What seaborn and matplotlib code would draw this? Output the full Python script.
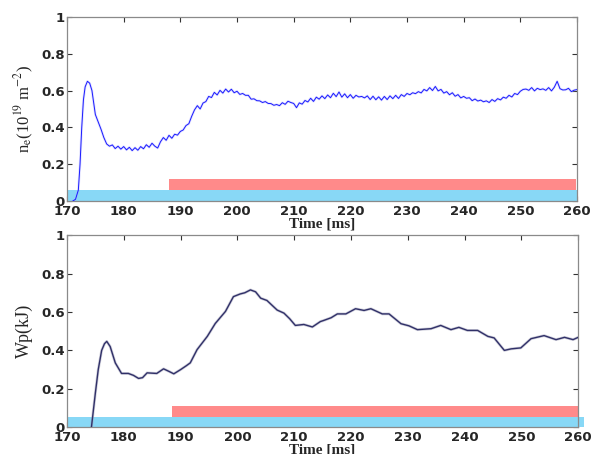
import numpy as np
import pandas as pd
import seaborn as sns
import matplotlib
matplotlib.use("Agg")
import matplotlib.pyplot as plt

# ---------------- data ----------------
ne_t_early = [170.0, 170.5, 171.0, 171.5, 172.0, 172.3, 172.6, 172.9, 173.2, 173.6, 174.0, 174.4]
ne_v_early = [-0.02, -0.01, 0.0, 0.01, 0.06, 0.20, 0.40, 0.55, 0.62, 0.65, 0.64, 0.60]
ne_t_start, ne_t_stop, ne_t_step = 175.0, 260.0, 0.5
ne_v_main = [
    0.47, 0.43, 0.39, 0.345, 0.31, 0.298, 0.305, 0.285, 0.298, 0.282,
    0.296, 0.278, 0.292, 0.274, 0.29, 0.276, 0.296, 0.284, 0.306, 0.292,
    0.314, 0.298, 0.288, 0.322, 0.345, 0.33, 0.357, 0.341, 0.363, 0.358,
    0.378, 0.386, 0.41, 0.42, 0.46, 0.495, 0.518, 0.5, 0.532, 0.54,
    0.568, 0.562, 0.59, 0.576, 0.601, 0.586, 0.608, 0.592, 0.607, 0.588,
    0.596, 0.579, 0.584, 0.574, 0.574, 0.553, 0.555, 0.545, 0.544, 0.535,
    0.54, 0.53, 0.529, 0.52, 0.524, 0.518, 0.534, 0.525, 0.542, 0.535,
    0.53, 0.507, 0.533, 0.526, 0.546, 0.538, 0.558, 0.541, 0.564, 0.553,
    0.571, 0.556, 0.576, 0.561, 0.585, 0.567, 0.592, 0.564, 0.582, 0.561,
    0.578, 0.558, 0.574, 0.565, 0.568, 0.56, 0.571, 0.551, 0.569, 0.55,
    0.566, 0.548, 0.568, 0.551, 0.571, 0.556, 0.574, 0.557, 0.578, 0.568,
    0.584, 0.577, 0.588, 0.583, 0.594, 0.587, 0.606, 0.598, 0.616, 0.6,
    0.622, 0.598, 0.606, 0.586, 0.594, 0.577, 0.588, 0.569, 0.578, 0.56,
    0.568, 0.558, 0.561, 0.545, 0.554, 0.543, 0.548, 0.539, 0.544, 0.535,
    0.551, 0.541, 0.556, 0.549, 0.564, 0.558, 0.574, 0.565, 0.584, 0.578,
    0.596, 0.606, 0.608, 0.601, 0.616, 0.598, 0.612, 0.605, 0.609, 0.601,
    0.616, 0.598, 0.618, 0.65, 0.61, 0.603, 0.604, 0.612, 0.594, 0.602,
    0.605,
]

wp_t = [174.3, 175.0, 175.5, 176.1, 176.6, 177.0, 177.6, 178.5, 179.6, 180.8,
        181.7, 182.6, 183.3, 184.1, 185.8, 187.0, 188.0, 188.8, 190.0, 191.0,
        191.7, 192.9, 194.7, 196.1, 197.9, 199.3, 200.5, 201.3, 202.3, 203.2,
        204.1, 205.2, 207.0, 208.2, 209.2, 210.2, 211.7, 213.2, 214.6, 215.2,
        216.5, 217.6, 219.1, 220.8, 222.3, 223.5, 225.5, 226.7, 228.8, 230.2,
        231.7, 234.1, 235.8, 237.6, 239.0, 240.5, 242.3, 244.1, 245.2, 247.0,
        248.2, 249.9, 251.7, 254.0, 256.1, 257.6, 259.1, 260.0]
wp_v = [0.0, 0.18, 0.30, 0.40, 0.435, 0.447, 0.42, 0.335, 0.28, 0.28,
        0.27, 0.254, 0.258, 0.283, 0.28, 0.304, 0.29, 0.278, 0.30, 0.32,
        0.335, 0.404, 0.473, 0.54, 0.603, 0.68, 0.694, 0.70, 0.715, 0.705,
        0.672, 0.66, 0.61, 0.594, 0.565, 0.53, 0.535, 0.522, 0.55, 0.556,
        0.57, 0.59, 0.59, 0.617, 0.608, 0.617, 0.59, 0.59, 0.539, 0.528,
        0.508, 0.513, 0.53, 0.508, 0.52, 0.504, 0.504, 0.473, 0.465, 0.40,
        0.408, 0.413, 0.461, 0.477, 0.456, 0.468, 0.456, 0.468]

# heating strips: (start, end, bottom, top)
top_cyan = (170.0, 260.0, 0.0, 0.06)
top_red = (188.0, 259.8, 0.06, 0.12)
bot_cyan = (170.0, 261.1, 0.0, 0.052)
bot_red = (188.5, 260.0, 0.052, 0.108)

x_ticks = [170, 180, 190, 200, 210, 220, 230, 240, 250, 260]
y_ticks = [0, 0.2, 0.4, 0.6, 0.8, 1]
y_tick_labels = ["0", "0.2", "0.4", "0.6", "0.8", "1"]
x_label = "Time [ms]"
top_ylabel = r"n$_{\mathrm{e}}$(10$^{19}$ m$^{-2}$)"
bot_ylabel = "Wp(kJ)"

CYAN = "#88D8F6"
RED = "#FF8A8A"

# ---------------- build frames ----------------
ne_t = list(ne_t_early) + list(np.arange(ne_t_start, ne_t_stop + 0.01, ne_t_step))
ne_df = pd.DataFrame({"t": ne_t, "v": list(ne_v_early) + ne_v_main})
wp_df = pd.DataFrame({"t": wp_t, "v": wp_v})

sns.set_style("ticks")
plt.rcParams["mathtext.fontset"] = "stix"

fig = plt.figure(figsize=(5.93, 4.54), dpi=100)
ax1 = fig.add_axes([0.113, 0.557, 0.860, 0.406])
ax2 = fig.add_axes([0.113, 0.059, 0.862, 0.423])


def strip(ax, spec, color):
    s, e, b, t = spec
    ax.barh(y=(b + t) / 2, width=e - s, left=s, height=t - b, color=color,
            edgecolor="none", zorder=1, clip_on=False)


def style(ax, ylabel, ylsize, labelpad):
    ax.set_xlim(170, 260)
    ax.set_ylim(0, 1)
    ax.set_xticks(x_ticks)
    ax.set_xticklabels([str(v) for v in x_ticks])
    ax.set_yticks(y_ticks)
    ax.set_yticklabels(y_tick_labels)
    ax.tick_params(direction="in", top=True, right=True, length=3.5, width=0.8,
                   color="#333333", pad=1.5)
    ax.tick_params(axis="x", pad=3)
    for lab in ax.get_xticklabels() + ax.get_yticklabels():
        lab.set_fontweight("bold")
        lab.set_fontsize(9.5)
        lab.set_family("DejaVu Sans")
    ax.get_yticklabels()[0].set_verticalalignment("center_baseline")
    for sp in ax.spines.values():
        sp.set_color("#8a8a8a")
        sp.set_linewidth(0.9)
    ax.set_xlabel(x_label, family="Liberation Serif", fontweight="bold",
                  fontsize=11, labelpad=-0.5)
    ax.set_ylabel(ylabel, family="Liberation Serif", fontsize=ylsize,
                  labelpad=labelpad)


strip(ax1, top_cyan, CYAN)
strip(ax1, top_red, RED)
sns.lineplot(data=ne_df, x="t", y="v", ax=ax1, color="#a8a8ff", linewidth=1.8,
             alpha=0.35, zorder=2, sort=False)
sns.lineplot(data=ne_df, x="t", y="v", ax=ax1, color="#1a1aff", linewidth=0.7,
             zorder=3, sort=False)
style(ax1, top_ylabel, 12, 4)

strip(ax2, bot_cyan, CYAN)
strip(ax2, bot_red, RED)
sns.lineplot(data=wp_df, x="t", y="v", ax=ax2, color="#a0a0b8", linewidth=2.0,
             alpha=0.5, zorder=2, sort=False)
sns.lineplot(data=wp_df, x="t", y="v", ax=ax2, color="#303068", linewidth=1.0,
             zorder=3, sort=False)
style(ax2, bot_ylabel, 13, 6)

fig.savefig("out.png", dpi=100)
